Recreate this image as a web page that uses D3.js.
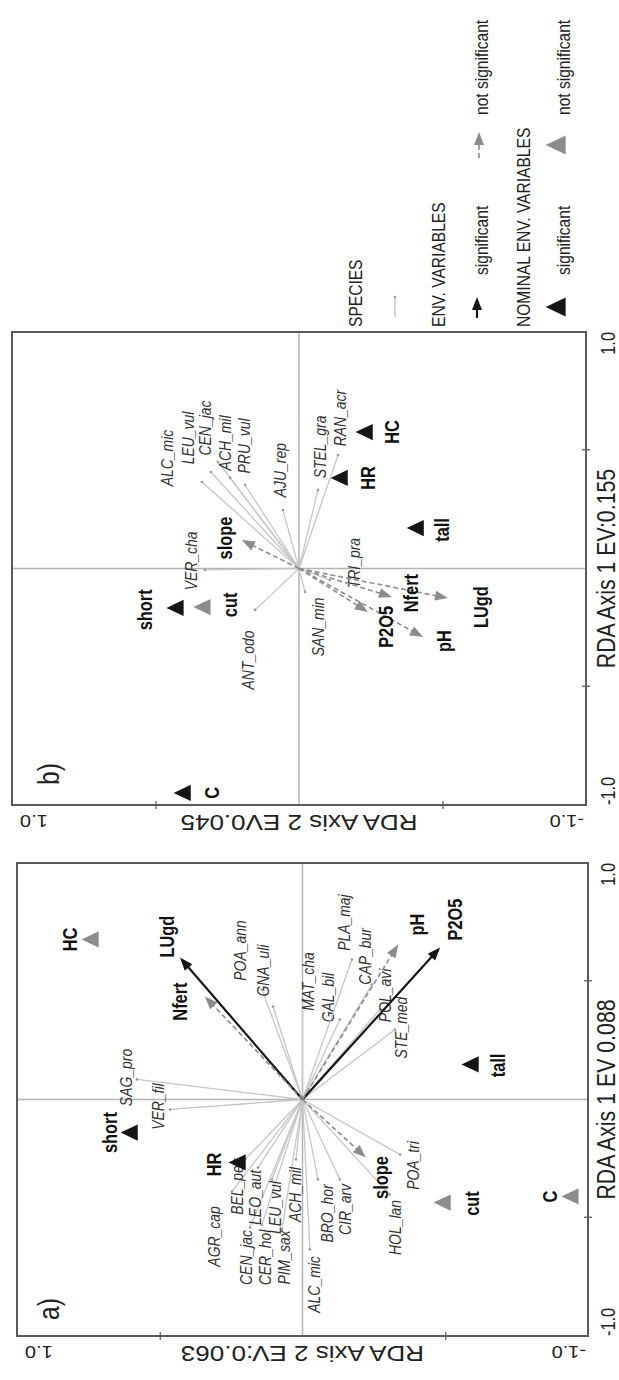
<!DOCTYPE html>
<html>
<head>
<meta charset="utf-8">
<script src="https://cdn.jsdelivr.net/npm/d3@7"></script>
<style>
  body { margin: 0; background: #fff; }
  svg { display: block; font-family: "Liberation Sans", Arial, sans-serif; }
</style>
</head>
<body>
<svg id="fig" width="619" height="1380"></svg>
<script>
// ---- panel a) ----
const speciesA = [
  ["SAG_pro", 0.085, 0.580], ["VER_fil", -0.042, 0.464], ["POA_ann", 0.465, 0.142],
  ["GNA_uli", 0.393, 0.103], ["MAT_cha", 0.423, 0.0], ["GAL_bil", 0.338, -0.131],
  ["PLA_maj", 0.592, -0.173], ["CAP_bur", 0.486, -0.243], ["POL_avi", 0.381, -0.271],
  ["STE_med", 0.296, -0.324], ["AGR_cap", -0.389, 0.247], ["BEL_pek", -0.254, 0.201],
  ["CEN_jac", -0.541, 0.184], ["LEO_aut", -0.288, 0.156], ["CER_hol", -0.529, 0.142],
  ["LEU_vul", -0.338, 0.107], ["PIM_sax", -0.550, 0.072], ["ACH_mil", -0.254, 0.023],
  ["ALC_mic", -0.634, -0.026], ["BRO_hor", -0.338, -0.054], ["CIR_arv", -0.338, -0.131],
  ["HOL_lan", -0.402, -0.306], ["POA_tri", -0.233, -0.342]
];
const speciesALabels = [
  [0.093, 0.618], [-0.030, 0.506], [0.630, 0.219], [0.545, 0.138], [0.499, -0.019],
  [0.431, -0.089], [0.748, -0.145], [0.605, -0.219], [0.440, -0.289], [0.304, -0.345],
  [-0.579, 0.310], [-0.368, 0.229], [-0.668, 0.198], [-0.414, 0.166], [-0.668, 0.131],
  [-0.457, 0.096], [-0.668, 0.065], [-0.402, 0.026], [-0.782, -0.040], [-0.482, -0.086],
  [-0.465, -0.149], [-0.541, -0.324], [-0.279, -0.387]
];
// [name, axis1, axis2, significant]
const envA = [
  ["LUgd", 0.600, 0.429, true], ["Nfert", 0.436, 0.342, false], ["P2O5", 0.643, -0.482, true],
  ["pH", 0.655, -0.335, false], ["slope", -0.245, -0.222, false]
];
const envALabels = [[0.689, 0.475], [0.414, 0.429], [0.761, -0.534], [0.740, -0.401], [-0.330, -0.275]];
const nominalA = [
  ["HC", 0.677, 0.734, false], ["short", -0.140, 0.597, true], ["tall", 0.148, -0.597, true],
  ["cut", -0.436, -0.499, false], ["C", -0.410, -0.947, false], ["HR", -0.266, 0.219, true]
];
const nominalALabels = [[0.677, 0.814], [-0.140, 0.674], [0.144, -0.685], [-0.440, -0.594], [-0.410, -0.867], [-0.275, 0.310]];

// ---- panel b) ----
const speciesB = [
  ["ALC_mic", 0.366, 0.338], ["LEU_vul", 0.408, 0.307], ["CEN_jac", 0.450, 0.282],
  ["ACH_mil", 0.383, 0.240], ["PRU_vul", 0.353, 0.188], ["AJU_rep", 0.247, 0.056],
  ["VER_cha", -0.006, 0.328], ["ANT_odo", -0.175, 0.153], ["STEL_gra", 0.332, -0.066],
  ["RAN_acr", 0.480, -0.136], ["TRI_pra", -0.049, -0.108], ["SAN_min", -0.099, -0.021]
];
const speciesBLabels = [
  [0.467, 0.460], [0.552, 0.387], [0.594, 0.328], [0.531, 0.258], [0.518, 0.192], [0.416, 0.066],
  [0.032, 0.376], [-0.387, 0.178], [0.514, -0.073], [0.636, -0.143], [0.023, -0.192], [-0.247, -0.066]
];
const envB = [
  ["slope", 0.120, 0.199, false], ["P2O5", -0.184, -0.240, false], ["Nfert", -0.120, -0.324, false],
  ["pH", -0.290, -0.432, false], ["LUgd", -0.125, -0.519, false]
];
const envBLabels = [[0.129, 0.258], [-0.247, -0.303], [-0.104, -0.390], [-0.307, -0.505], [-0.163, -0.634]];
const nominalB = [
  ["short", -0.167, 0.422, true], ["cut", -0.163, 0.328, false], ["C", -0.949, 0.397, true],
  ["HC", 0.577, -0.237, true], ["HR", 0.383, -0.150, true], ["tall", 0.171, -0.415, true]
];
const nominalBLabels = [[-0.175, 0.537], [-0.154, 0.240], [-0.949, 0.303], [0.577, -0.324], [0.383, -0.240], [0.163, -0.498]];

const axisTicks = [-1, 1];

// the figure is drawn lying on its side: unrotated frame is 1380 wide x 619 high
const W = 619, H = 1380, SQ = 0.82;  // SQ: horizontal squash of glyphs
const svg = d3.select("#fig");
const fig = svg.append("g").attr("transform", `translate(0,${H}) rotate(-90)`);

const black = "#151515", grey = "#8c8c8c", light = "#c6c6c6";

function txt(g, x, y, s, size, opts = {}) {
  return g.append("text")
    .attr("transform", `translate(${x},${y}) scale(${SQ},1)`)
    .attr("text-anchor", opts.anchor || "middle")
    .attr("dominant-baseline", opts.base || "auto")
    .attr("font-size", size)
    .attr("font-weight", opts.weight || "normal")
    .attr("font-style", opts.style || "normal")
    .attr("fill", opts.fill || "#222")
    .text(s);
}

function arrow(g, x0, y0, x1, y1, color, dashed) {
  const dx = x1 - x0, dy = y1 - y0, len = Math.hypot(dx, dy);
  const ux = dx / len, uy = dy / len, hl = 13, hw = 5;
  g.append("line")
    .attr("x1", x0).attr("y1", y0)
    .attr("x2", x1 - ux * hl * 0.6).attr("y2", y1 - uy * hl * 0.6)
    .attr("stroke", color)
    .attr("stroke-width", dashed ? 1.6 : 2.2)
    .attr("stroke-dasharray", dashed ? "5,3" : null);
  const bx = x1 - ux * hl, by = y1 - uy * hl;
  g.append("path")
    .attr("d", `M${x1},${y1}L${bx - uy * hw},${by + ux * hw}L${bx + uy * hw},${by - ux * hw}Z`)
    .attr("fill", color);
}

function triangle(g, x, y, color, size) {
  g.append("path")
    .attr("d", d3.symbol().type(d3.symbolTriangle).size(size)())
    .attr("transform", `translate(${x},${y}) scale(${SQ},1)`)
    .attr("fill", color);
}

function drawPanel(p) {
  const x = d3.scaleLinear().domain([-1, 1]).range([p.u0, p.u1]);
  const y = d3.scaleLinear().domain([-1, 1]).range([p.v1, p.v0]);
  const g = fig.append("g");

  // zero lines
  g.append("line").attr("x1", x(0)).attr("x2", x(0)).attr("y1", y(-1)).attr("y2", y(1))
    .attr("stroke", "#b4b4b4").attr("stroke-width", 1.5);
  g.append("line").attr("x1", x(-1)).attr("x2", x(1)).attr("y1", y(0)).attr("y2", y(0))
    .attr("stroke", "#b4b4b4").attr("stroke-width", 1.5);

  // tick crosses on bottom and left frame edges
  g.append("g").attr("transform", `translate(0,${y(-1) - 4})`)
    .call(d3.axisBottom(x).tickValues([-0.5, 0.5]).tickSize(8).tickFormat(""))
    .call(a => a.select(".domain").remove())
    .selectAll("line").attr("stroke", "#555").attr("stroke-width", 1.2);
  g.append("g").attr("transform", `translate(${x(-1) + 4},0)`)
    .call(d3.axisLeft(y).tickValues([-0.5, 0.5]).tickSize(8).tickFormat(""))
    .call(a => a.select(".domain").remove())
    .selectAll("line").attr("stroke", "#555").attr("stroke-width", 1.2);

  // frame
  g.append("rect").attr("x", x(-1)).attr("y", y(1))
    .attr("width", x(1) - x(-1)).attr("height", y(-1) - y(1))
    .attr("fill", "none").attr("stroke", "#5a5a5a").attr("stroke-width", 2);

  // species
  p.species.forEach(([name, a1, a2], i) => {
    g.append("line").attr("x1", x(0)).attr("y1", y(0)).attr("x2", x(a1)).attr("y2", y(a2))
      .attr("stroke", light).attr("stroke-width", 1.3);
    g.append("circle").attr("cx", x(a1)).attr("cy", y(a2)).attr("r", 1.3).attr("fill", "#999");
    const [lx, ly] = p.speciesLabels[i];
    txt(g, x(lx), y(ly), name, 17, { style: "italic", base: "central", fill: "#333" });
  });

  // environmental variables
  p.env.forEach(([name, a1, a2, sig]) => {
    arrow(g, x(0), y(0), x(a1), y(a2), sig ? black : grey, !sig);
  });
  p.env.forEach(([name], i) => {
    const [lx, ly] = p.envLabels[i];
    txt(g, x(lx), y(ly), name, 20, { weight: "bold", base: "central", fill: "#111" });
  });

  // nominal variables
  p.nominal.forEach(([name, a1, a2, sig], i) => {
    triangle(g, x(a1), y(a2), sig ? black : grey, 170);
    const [lx, ly] = p.nominalLabels[i];
    txt(g, x(lx), y(ly), name, 20, { weight: "bold", base: "central", fill: "#111" });
  });

  // tick labels and titles
  const base = 615;
  txt(g, x(axisTicks[0]), base, "-1.0", 20, { anchor: "start" });
  txt(g, x(axisTicks[1]), base, "1.0", 20, { anchor: "end" });
  txt(g, x(0), base, p.xTitle, 26);

  const yl = (v, s, anchor) => g.append("text")
    .attr("transform", `translate(${p.yBase},${v}) rotate(-90) scale(1,${SQ})`)
    .attr("text-anchor", anchor).attr("font-size", anchor === "middle" ? 26 : 20)
    .attr("fill", "#222").text(s);
  yl(y(axisTicks[0]) - 2, "-1.0", "start");
  yl(y(axisTicks[1]) + 8, "1.0", "end");
  yl(y(0), p.yTitle, "middle");

  txt(g, p.tagX, 59, p.tag, 30, { anchor: "start" });
}

drawPanel({
  u0: 44, u1: 517, v0: 17, v1: 588, yBase: 34, tagX: 60, tag: "a)",
  xTitle: "RDA Axis 1 EV 0.088", yTitle: "RDA Axis 2 EV:0.063",
  species: speciesA, speciesLabels: speciesALabels,
  env: envA, envLabels: envALabels, nominal: nominalA, nominalLabels: nominalALabels
});
drawPanel({
  u0: 575, u1: 1048, v0: 12, v1: 586, yBase: 565, tagX: 595, tag: "b)",
  xTitle: "RDA Axis 1 EV:0.155", yTitle: "RDA Axis 2 EV0.045",
  species: speciesB, speciesLabels: speciesBLabels,
  env: envB, envLabels: envBLabels, nominal: nominalB, nominalLabels: nominalBLabels
});

// legend
const lg = fig.append("g");
const lx0 = 1053;
txt(lg, lx0, 362, "SPECIES", 19, { anchor: "start" });
lg.append("line").attr("x1", 1063).attr("x2", 1083).attr("y1", 395).attr("y2", 395)
  .attr("stroke", light).attr("stroke-width", 1.5);
lg.append("circle").attr("cx", 1083).attr("cy", 395).attr("r", 1.3).attr("fill", "#999");

txt(lg, lx0, 445, "ENV. VARIABLES", 19, { anchor: "start" });
arrow(lg, 1062, 477, 1083, 477, black, false);
txt(lg, 1105, 488, "significant", 19, { anchor: "start" });
arrow(lg, 1222, 479, 1248, 479, grey, true);
txt(lg, 1265, 488, "not significant", 19, { anchor: "start" });

txt(lg, lx0, 530, "NOMINAL ENV. VARIABLES", 19, { anchor: "start" });
triangle(lg, 1073, 559, black, 230);
txt(lg, 1105, 570, "significant", 19, { anchor: "start" });
triangle(lg, 1235, 559, grey, 230);
txt(lg, 1265, 570, "not significant", 19, { anchor: "start" });
</script>
</body>
</html>
